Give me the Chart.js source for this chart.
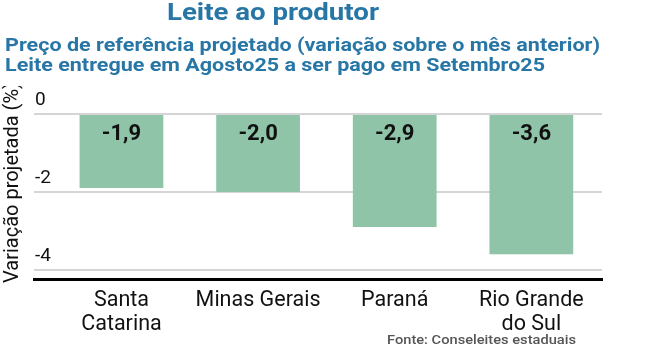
<!DOCTYPE html>
<html>
<head>
<meta charset="utf-8">
<script src="https://cdn.jsdelivr.net/npm/chart.js@4.4.1/dist/chart.umd.min.js"></script>
<style>
  html, body { margin: 0; padding: 0; background: #fff; }
  #wrap { position: relative; width: 667px; height: 356px; overflow: hidden; font-family: Roboto, "Noto Sans", sans-serif; }
  #chart { position: absolute; left: 0; top: 0; }
  .txt { position: absolute; white-space: nowrap; line-height: 1; transform-origin: 0 0; }
  #title { left: 167px; top: 0px; font-size: 24.5px; font-weight: 700; color: #2776a6; }
  #sub1 { left: 5px; top: 37px; font-size: 17.5px; font-weight: 700; color: #2776a6; }
  #sub2 { left: 5px; top: 56.5px; font-size: 17.5px; font-weight: 700; color: #2776a6; }
  #src { left: 387px; top: 334px; font-size: 12.5px; font-weight: 500; color: #555; }
  #yclip { position: absolute; left: 0; top: 86px; width: 40px; height: 220px; overflow: hidden; }
  #ytitle { position: absolute; left: 21px; top: 177px; font-size: 20px; line-height: 20px; white-space: nowrap; color: #111; transform: rotate(-90deg); transform-origin: 0 100%; }
</style>
</head>
<body>
<div id="wrap">
  <canvas id="chart" width="667" height="356"></canvas>
  <div class="txt" id="title" data-w="212">Leite ao produtor</div>
  <div class="txt" id="sub1" data-w="595">Preço de referência projetado (variação sobre o mês anterior)</div>
  <div class="txt" id="sub2" data-w="540">Leite entregue em Agosto25 a ser pago em Setembro25</div>
  <div class="txt" id="src" data-w="189">Fonte: Conseleites estaduais</div>
  <div id="yclip"><div id="ytitle">Variação projetada (%)</div></div>
</div>
<script>
// ---- Data ----
const categories = ['Santa Catarina', 'Minas Gerais', 'Paraná', 'Rio Grande do Sul'];
const tickLabels = [['Santa', 'Catarina'], ['Minas Gerais'], ['Paraná'], ['Rio Grande', 'do Sul']];
const values = [-1.9, -2.0, -2.9, -3.6];
const yTicks = [0, -2, -4];

// fit header texts to their widths (condensed look)
document.querySelectorAll('.txt[data-w]').forEach(el => {
  const w = el.getBoundingClientRect().width;
  const target = parseFloat(el.dataset.w);
  el.style.transform = 'scaleX(' + (target / w) + ')';
});

const fmt = v => v.toFixed(1).replace('.', ',');

const valueLabels = {
  id: 'valueLabels',
  afterDatasetsDraw(chart) {
    const ctx = chart.ctx;
    const meta = chart.getDatasetMeta(0);
    ctx.save();
    ctx.font = '700 22px Roboto';
    ctx.fillStyle = '#111';
    ctx.textAlign = 'center';
    ctx.textBaseline = 'middle';
    meta.data.forEach((bar, i) => {
      ctx.fillText(fmt(values[i]), bar.x, bar.base + 19);
    });
    ctx.restore();
  }
};

new Chart(document.getElementById('chart'), {
  type: 'bar',
  data: {
    datasets: [{
      label: 'Variação projetada (%)',
      data: values.map((v, i) => ({ x: i, y: v })),
      backgroundColor: '#8fc4a8',
      borderWidth: 0,
      barPercentage: 0.613,
      categoryPercentage: 1
    }]
  },
  options: {
    responsive: false,
    animation: false,
    devicePixelRatio: 1,
    layout: { padding: { left: 32, right: 65, top: 114, bottom: 10.25 } },
    plugins: { legend: { display: false }, tooltip: { enabled: false }, title: { display: false } },
    scales: {
      x: {
        type: 'linear',
        offset: false,
        min: -0.64,
        max: 3.517,
        afterBuildTicks: axis => { axis.ticks = categories.map((c, i) => ({ value: i })); },
        grid: { display: false, drawTicks: false, offset: false },
        border: { display: true, color: '#000', width: 3 },
        ticks: {
          autoSkip: false,
          maxRotation: 0,
          padding: 9,
          color: '#111',
          font: { family: 'Roboto', size: 21.5, lineHeight: 1.12 },
          callback: v => tickLabels[v]
        }
      },
      y: {
        min: -4.25,
        max: 0,
        afterBuildTicks: axis => { axis.ticks = yTicks.map(v => ({ value: v })); },
        grid: { color: '#d5d5d5', lineWidth: 2, drawTicks: false },
        border: { display: false },
        ticks: {
          mirror: true,
          padding: 1,
          labelOffset: -14,
          color: '#111',
          font: { family: 'Roboto', size: 19 },
          callback: v => String(v)
        }
      }
    }
  },
  plugins: [valueLabels]
});
</script>
</body>
</html>
